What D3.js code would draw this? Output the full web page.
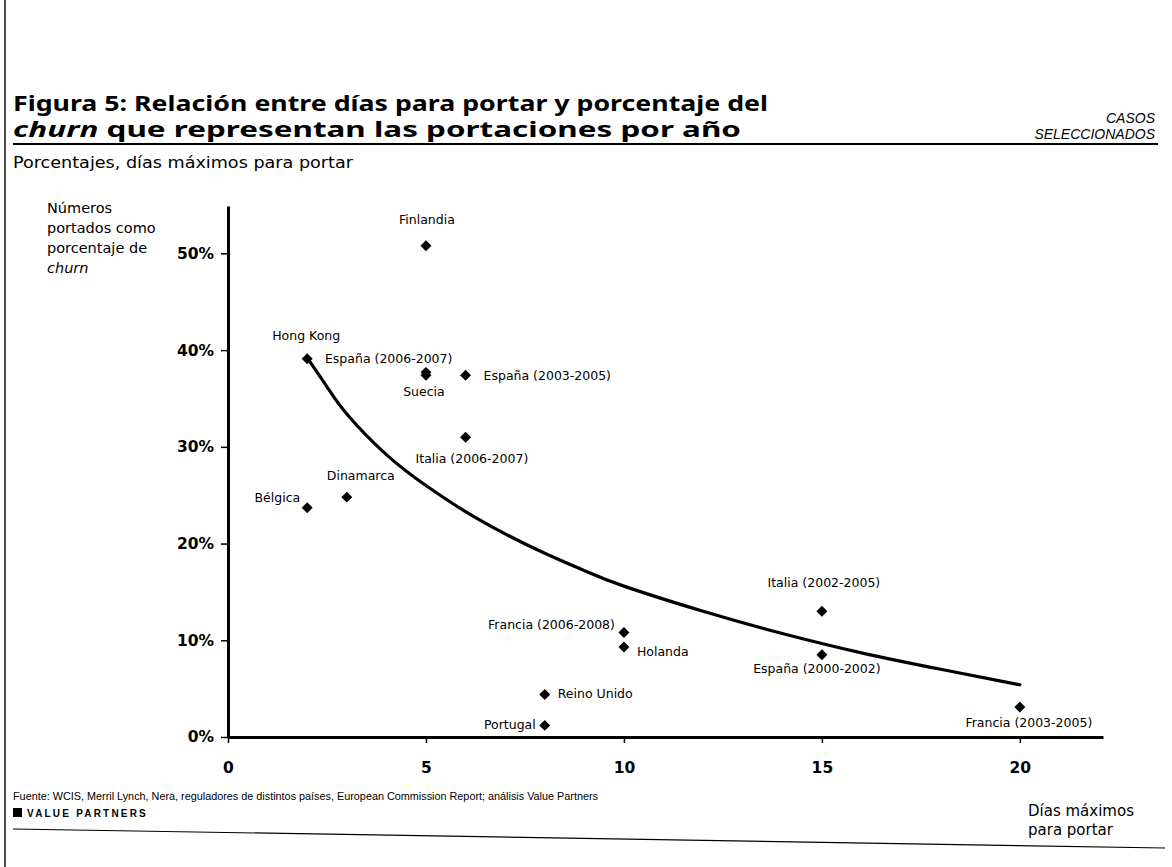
<!DOCTYPE html>
<html><head><meta charset="utf-8">
<script src="https://cdn.jsdelivr.net/npm/d3@7"></script>
<style>body{margin:0;background:#fff} svg{display:block}</style>
</head><body>
<svg id="chart" width="1172" height="867"></svg>
<script>
// ---- data ----
const countries = ["Hong Kong","España (2006-2007)","Suecia","España (2003-2005)","Finlandia","Italia (2006-2007)","Dinamarca","Bélgica","Francia (2006-2008)","Holanda","Reino Unido","Portugal","Italia (2002-2005)","España (2000-2002)","Francia (2003-2005)"];
const maxDays  = [2, 5, 5, 6, 5, 6, 3, 2, 10, 10, 8, 8, 15, 15, 20];
const churnPct = [39.1, 37.7, 37.4, 37.4, 50.8, 31.0, 24.8, 23.7, 10.8, 9.3, 4.4, 1.2, 13.0, 8.5, 3.1];
// trend line
const trendDays = [2, 2.5, 3, 4, 5, 6, 7, 8, 9, 10, 12, 14, 16, 18, 20];
const trendPct  = [39.2, 36.2, 33.4, 29.2, 26.0, 23.3, 21.0, 19.0, 17.2, 15.6, 13.0, 10.7, 8.7, 7.0, 5.4];
const xTicks = [0, 5, 10, 15, 20];
const yTicks = [0, 10, 20, 30, 40, 50];
const titleLine1 = "Figura 5: Relación entre días para portar y porcentaje del";
const titleLine2Italic = "churn";
const titleLine2Rest = " que representan las portaciones por año";
const subtitle = "Porcentajes, días máximos para portar";
const yTitle = ["Números", "portados como", "porcentaje de"];
const yTitleItalic = "churn";
const xTitle = ["Días máximos", "para portar"];
const cornerNote = ["CASOS", "SELECCIONADOS"];
const source = "Fuente: WCIS, Merril Lynch, Nera, reguladores de distintos países, European Commission Report; análisis Value Partners";
const brand = "VALUE PARTNERS";

// ---- label placement (layout, not data) ----
const labelPlace = {
  "Hong Kong": [-1, -19, "middle"],
  "España (2006-2007)": [-101, -9, "start"],
  "Suecia": [-2, 21, "middle"],
  "España (2003-2005)": [18, 5, "start"],
  "Finlandia": [1, -22, "middle"],
  "Italia (2006-2007)": [-50, 26, "start"],
  "Dinamarca": [14, -17, "middle"],
  "Bélgica": [-7, -6, "end"],
  "Francia (2006-2008)": [-9, -4, "end"],
  "Holanda": [13, 9, "start"],
  "Reino Unido": [13, 4, "start"],
  "Portugal": [-9, 4, "end"],
  "Italia (2002-2005)": [2, -24, "middle"],
  "España (2000-2002)": [-5, 18, "middle"],
  "Francia (2003-2005)": [9, 20, "middle"]
};

const svg = d3.select("#chart");
const SANS = "'DejaVu Sans', Verdana, sans-serif";
const ARIAL = "'Liberation Sans', Arial, sans-serif";

function fit(sel, w) {
  const n = sel.node();
  const cur = n.getComputedTextLength();
  if (Math.abs(cur - w) > 1) sel.attr("textLength", w).attr("lengthAdjust", "spacingAndGlyphs");
}

// frame
svg.append("line").attr("x1", 5).attr("x2", 5).attr("y1", 0).attr("y2", 867).attr("stroke", "#111").attr("stroke-width", 1.5);

// title
const t1 = svg.append("text").attr("x", 13).attr("y", 111)
  .attr("font-family", "'Noto Sans', sans-serif").attr("font-weight", "bold").attr("font-size", 22)
  .attr("fill", "#000").text(titleLine1);
fit(t1, 755);
const t2 = svg.append("text").attr("x", 13).attr("y", 137)
  .attr("font-family", "'Noto Sans', sans-serif").attr("font-weight", "bold").attr("font-size", 22).attr("fill", "#000");
t2.append("tspan").attr("font-style", "italic").text(titleLine2Italic);
t2.append("tspan").text(titleLine2Rest);
fit(t2, 728);

cornerNote.forEach((s, i) => {
  svg.append("text").attr("x", 1155).attr("y", 123 + i * 16).attr("text-anchor", "end")
    .attr("font-family", ARIAL).attr("font-style", "italic").attr("font-size", 14).text(s);
});

svg.append("line").attr("x1", 13).attr("x2", 1158).attr("y1", 144).attr("y2", 144)
  .attr("stroke", "#000").attr("stroke-width", 2);

const sub = svg.append("text").attr("x", 13).attr("y", 168).attr("font-family", SANS).attr("font-size", 16)
  .text(subtitle);
fit(sub, 340);

// y title
yTitle.forEach((s, i) => {
  svg.append("text").attr("x", 47).attr("y", 213 + i * 20).attr("font-family", SANS).attr("font-size", 14.5).text(s);
});
svg.append("text").attr("x", 47).attr("y", 273).attr("font-family", SANS).attr("font-size", 14.5)
  .attr("font-style", "italic").text(yTitleItalic);

// scales
const x = d3.scaleLinear().domain([0, 22.1]).range([228, 1103]);
const y = d3.scaleLinear().domain([0, 54.9]).range([737, 206]);

// axes
const yAxis = svg.append("g").attr("transform", `translate(${x(0)},0)`)
  .call(d3.axisLeft(y).tickValues(yTicks).tickFormat(d => d + "%").tickSize(7).tickSizeOuter(0).tickPadding(7));
const xAxis = svg.append("g").attr("transform", `translate(0,${y(0)})`)
  .call(d3.axisBottom(x).tickValues(xTicks).tickSize(6).tickSizeOuter(0).tickPadding(19));
[yAxis, xAxis].forEach(g => {
  g.select(".domain").attr("stroke", "#000").attr("stroke-width", 3);
  g.selectAll(".tick line").attr("stroke", "#000").attr("stroke-width", 1.5);
  g.selectAll(".tick text").attr("font-family", SANS).attr("font-weight", "bold").attr("font-size", 15.5).attr("fill", "#000");
});

xTitle.forEach((s, i) => {
  svg.append("text").attr("x", 1028).attr("y", 816 + i * 19).attr("font-family", SANS).attr("font-size", 15).text(s);
});

// trend line
const trend = trendDays.map((d, i) => [d, trendPct[i]]);
svg.append("path").datum(trend)
  .attr("d", d3.line().x(d => x(d[0])).y(d => y(d[1])).curve(d3.curveNatural))
  .attr("fill", "none").attr("stroke", "#000").attr("stroke-width", 3.2).attr("stroke-linecap", "round");

// points
const pts = countries.map((c, i) => ({name: c, d: maxDays[i], p: churnPct[i]}));
svg.append("g").selectAll("path").data(pts).join("path")
  .attr("d", d3.symbol(d3.symbolSquare, 60))
  .attr("transform", d => `translate(${x(d.d)},${y(d.p)}) rotate(45)`)
  .attr("fill", "#000");

svg.append("g").selectAll("text").data(pts).join("text")
  .attr("x", d => x(d.d) + labelPlace[d.name][0])
  .attr("y", d => y(d.p) + labelPlace[d.name][1])
  .attr("text-anchor", d => labelPlace[d.name][2])
  .attr("font-family", SANS).attr("font-size", 12.5).attr("fill", "#000")
  .text(d => d.name);

// footer
const src = svg.append("text").attr("x", 13).attr("y", 800).attr("font-family", ARIAL).attr("font-size", 10.5).text(source);
fit(src, 585);
svg.append("rect").attr("x", 13).attr("y", 808).attr("width", 9).attr("height", 9).attr("fill", "#000");
svg.append("text").attr("x", 27).attr("y", 817).attr("font-family", ARIAL).attr("font-weight", "bold")
  .attr("font-size", 10).attr("letter-spacing", 2.2).text(brand);
svg.append("line").attr("x1", 13).attr("x2", 1165).attr("y1", 829).attr("y2", 848)
  .attr("stroke", "#000").attr("stroke-width", 1.2);
</script>
</body></html>
